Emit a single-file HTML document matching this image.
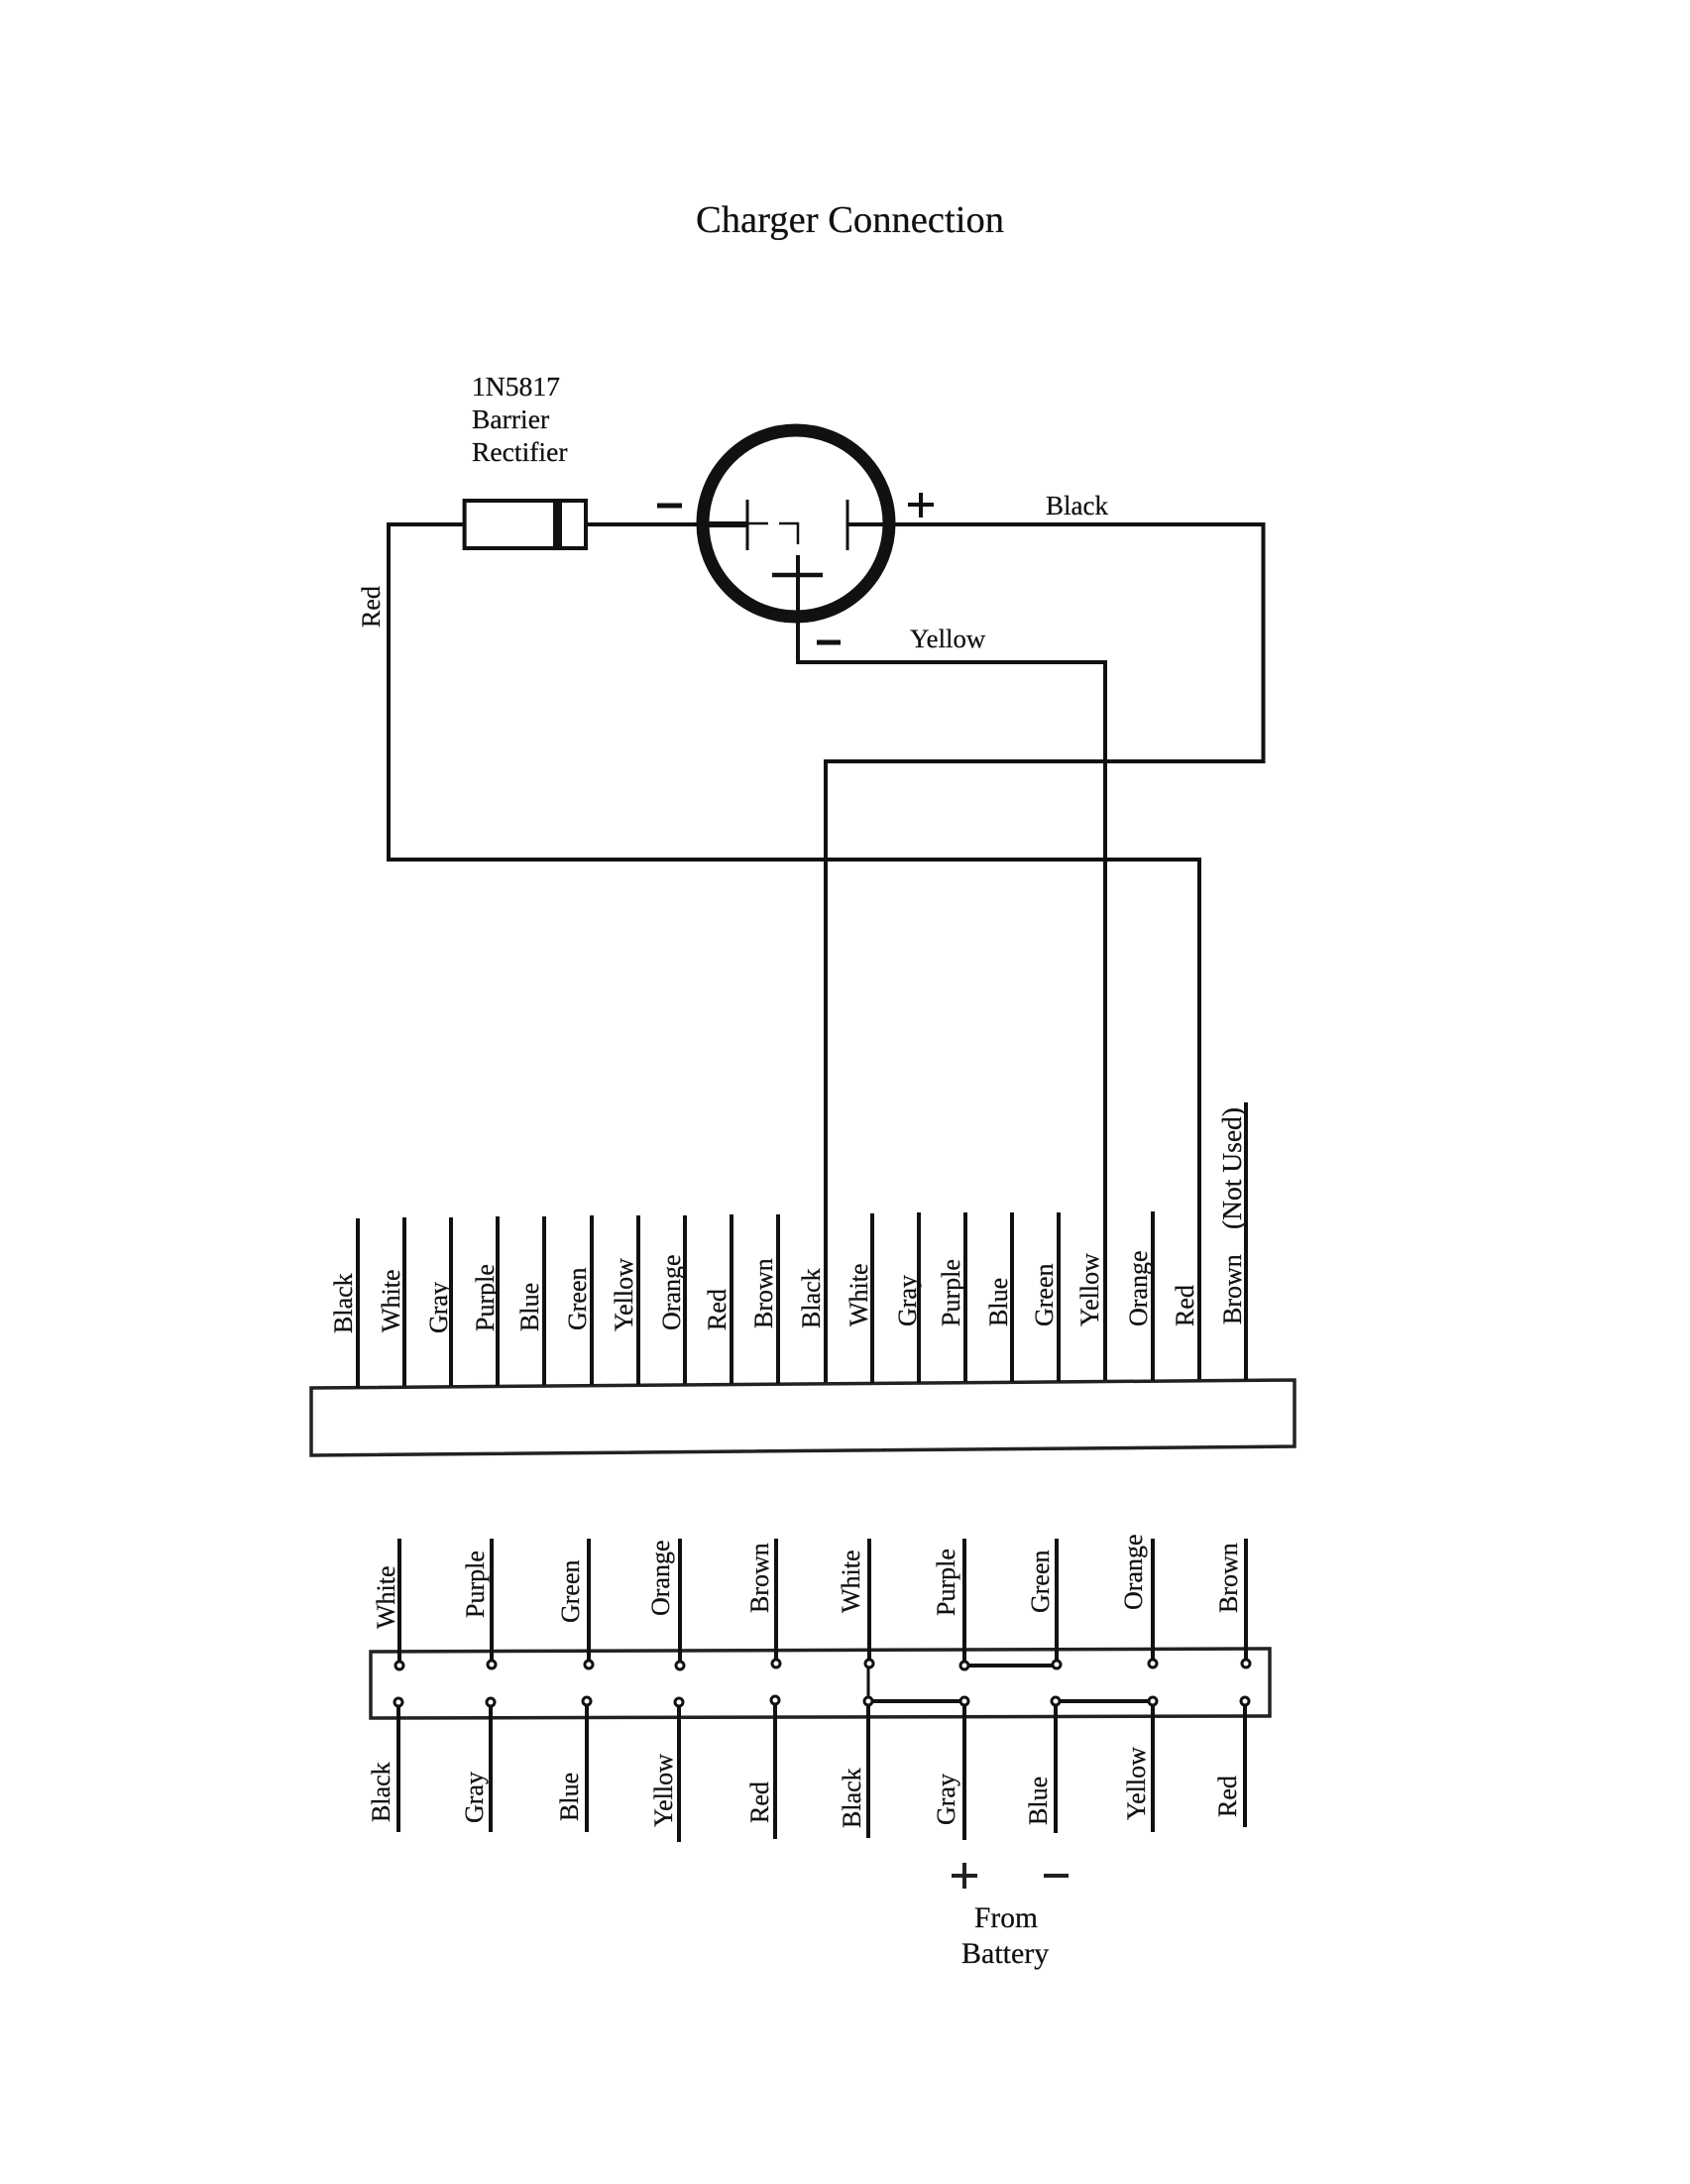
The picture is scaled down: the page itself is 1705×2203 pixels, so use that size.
<!DOCTYPE html>
<html><head><meta charset="utf-8"><title>Charger Connection</title>
<style>
html,body{margin:0;padding:0;background:#fff;width:1705px;height:2203px;overflow:hidden}
svg{display:block}
text{font-family:"Liberation Serif",serif;fill:#111;stroke:#111;stroke-width:.25}
.v{font-size:26px}
.w{stroke:#111;stroke-width:4;fill:none}
.c{fill:#fff;stroke:#111;stroke-width:3}
</style></head><body>
<svg width="1705" height="2203" viewBox="0 0 1705 2203" xmlns="http://www.w3.org/2000/svg">
<text x="702" y="234" font-size="38.6">Charger Connection</text>
<text x="476" y="399" font-size="27.6">1N5817</text>
<text x="476" y="432" font-size="27.6">Barrier</text>
<text x="476" y="465" font-size="27.6">Rectifier</text>
<text x="1055" y="519" font-size="27">Black</text>
<text x="918" y="653" font-size="26.8">Yellow</text>
<text class="v" transform="translate(383,633) rotate(-90)">Red</text>

<!-- wiring -->
<path class="w" d="M468 529H392V867H1210V1392"/>
<path class="w" d="M591 529H704"/>
<rect x="468.6" y="505" width="122.4" height="48" class="w"/>
<rect x="558" y="505" width="9" height="48" fill="#111"/>
<path class="w" d="M855 529H1274.5V768H833V1396"/>
<path class="w" d="M805 560V668H1115V1393"/>

<!-- jack -->
<circle cx="803" cy="528" r="94" fill="none" stroke="#111" stroke-width="13"/>
<path d="M704 529H754" stroke="#111" stroke-width="6" fill="none"/>
<path d="M754 504V555M855 504V555" stroke="#111" stroke-width="3" fill="none"/>
<path d="M754 528H775M786 528H805V549" stroke="#111" stroke-width="2.5" fill="none"/>
<path d="M779 580H830" stroke="#111" stroke-width="4.5" fill="none"/>
<path d="M663 510H688M824 648H848" stroke="#111" stroke-width="5" fill="none"/>
<path d="M916 509H942M929 497V522" stroke="#111" stroke-width="4" fill="none"/>

<!-- upper connector -->
<polygon points="314,1400 1306,1392 1306,1459 314,1468" fill="none" stroke="#222" stroke-width="3.5"/>
<path class="w" d="M361 1229V1400M408 1228V1398M455 1228V1398M502 1227V1398M549 1227V1397M597 1226V1397M644 1226V1397M691 1226V1396M738 1225V1396M785 1225V1396M880 1224V1395M927 1223V1395M974 1223V1394M1021 1223V1394M1068 1223V1394M1163 1222V1393M1257 1112V1392"/>
<text class="v" transform="translate(355,1345) rotate(-90)">Black</text>
<text class="v" transform="translate(403,1344) rotate(-90)">White</text>
<text class="v" transform="translate(451,1345) rotate(-90)">Gray</text>
<text class="v" transform="translate(498,1343) rotate(-90)">Purple</text>
<text class="v" transform="translate(543,1343) rotate(-90)">Blue</text>
<text class="v" transform="translate(591,1342) rotate(-90)">Green</text>
<text class="v" transform="translate(638,1343) rotate(-90)">Yellow</text>
<text class="v" transform="translate(686,1342) rotate(-90)">Orange</text>
<text class="v" transform="translate(732,1342) rotate(-90)">Red</text>
<text class="v" transform="translate(779,1340) rotate(-90)">Brown</text>
<text class="v" transform="translate(827,1340) rotate(-90)">Black</text>
<text class="v" transform="translate(875,1338) rotate(-90)">White</text>
<text class="v" transform="translate(924,1338) rotate(-90)">Gray</text>
<text class="v" transform="translate(968,1338) rotate(-90)">Purple</text>
<text class="v" transform="translate(1016,1338) rotate(-90)">Blue</text>
<text class="v" transform="translate(1062,1338) rotate(-90)">Green</text>
<text class="v" transform="translate(1108,1338) rotate(-90)">Yellow</text>
<text class="v" transform="translate(1157,1338) rotate(-90)">Orange</text>
<text class="v" transform="translate(1204,1338) rotate(-90)">Red</text>
<text class="v" transform="translate(1252,1336) rotate(-90)">Brown</text>
<text transform="translate(1252,1240) rotate(-90)" font-size="27.5">(Not Used)</text>

<!-- lower connector -->
<polygon points="374,1666 1281,1663 1281,1731 374,1733" fill="none" stroke="#222" stroke-width="3.5"/>
<path class="w" d="M403 1552V1680M496 1552V1679M594 1552V1679M686 1552V1680M783 1552V1678M877 1552V1678M973 1552V1680M1066 1552V1679M1163 1552V1678M1257 1552V1678"/>
<path class="w" d="M402 1717V1848M495 1717V1848M592 1716V1848M685 1717V1858M782 1715V1855M876 1716V1854M973 1716V1856M1065 1716V1849M1163 1716V1848M1256 1716V1843"/>
<path class="w" d="M973 1680H1066M876 1716H973M1065 1716H1163"/>
<path d="M876 1678V1716" stroke="#111" stroke-width="3" fill="none"/>
<g>
<circle class="c" cx="403" cy="1680" r="4"/><circle class="c" cx="496" cy="1679" r="4"/><circle class="c" cx="594" cy="1679" r="4"/><circle class="c" cx="686" cy="1680" r="4"/><circle class="c" cx="783" cy="1678" r="4"/><circle class="c" cx="877" cy="1678" r="4"/><circle class="c" cx="973" cy="1680" r="4"/><circle class="c" cx="1066" cy="1679" r="4"/><circle class="c" cx="1163" cy="1678" r="4"/><circle class="c" cx="1257" cy="1678" r="4"/>
<circle class="c" cx="402" cy="1717" r="4"/><circle class="c" cx="495" cy="1717" r="4"/><circle class="c" cx="592" cy="1716" r="4"/><circle class="c" cx="685" cy="1717" r="4"/><circle class="c" cx="782" cy="1715" r="4"/><circle class="c" cx="876" cy="1716" r="4"/><circle class="c" cx="973" cy="1716" r="4"/><circle class="c" cx="1065" cy="1716" r="4"/><circle class="c" cx="1163" cy="1716" r="4"/><circle class="c" cx="1256" cy="1716" r="4"/>
</g>
<text class="v" transform="translate(398,1643) rotate(-90)">White</text>
<text class="v" transform="translate(488,1632) rotate(-90)">Purple</text>
<text class="v" transform="translate(584,1637) rotate(-90)">Green</text>
<text class="v" transform="translate(675,1630) rotate(-90)">Orange</text>
<text class="v" transform="translate(775,1627) rotate(-90)">Brown</text>
<text class="v" transform="translate(867,1627) rotate(-90)">White</text>
<text class="v" transform="translate(963,1630) rotate(-90)">Purple</text>
<text class="v" transform="translate(1058,1627) rotate(-90)">Green</text>
<text class="v" transform="translate(1152,1624) rotate(-90)">Orange</text>
<text class="v" transform="translate(1248,1627) rotate(-90)">Brown</text>
<text class="v" transform="translate(393,1838) rotate(-90)">Black</text>
<text class="v" transform="translate(487,1839) rotate(-90)">Gray</text>
<text class="v" transform="translate(583,1837) rotate(-90)">Blue</text>
<text class="v" transform="translate(678,1843) rotate(-90)">Yellow</text>
<text class="v" transform="translate(775,1839) rotate(-90)">Red</text>
<text class="v" transform="translate(868,1844) rotate(-90)">Black</text>
<text class="v" transform="translate(963,1841) rotate(-90)">Gray</text>
<text class="v" transform="translate(1056,1841) rotate(-90)">Blue</text>
<text class="v" transform="translate(1155,1836) rotate(-90)">Yellow</text>
<text class="v" transform="translate(1247,1833) rotate(-90)">Red</text>

<path d="M960 1892H986M973 1879V1905" stroke="#222" stroke-width="4" fill="none"/>
<path d="M1053 1892H1078" stroke="#222" stroke-width="4" fill="none"/>
<text x="983" y="1944" font-size="29.5">From</text>
<text x="970" y="1980" font-size="30">Battery</text>
</svg>
</body></html>
